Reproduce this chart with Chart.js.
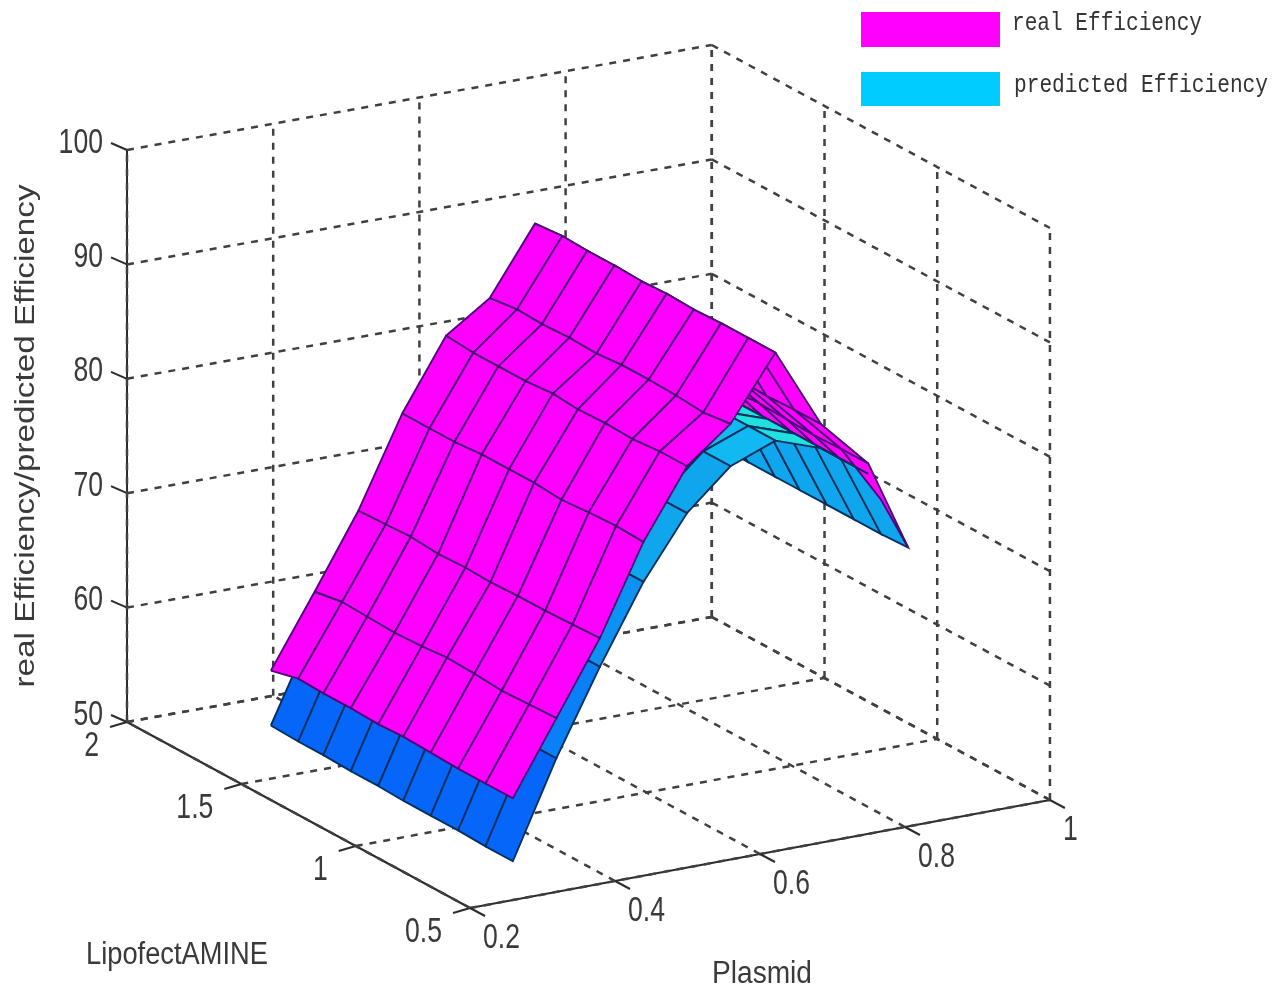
<!DOCTYPE html>
<html>
<head>
<meta charset="utf-8">
<title>real / predicted Efficiency</title>
<script src="https://cdn.jsdelivr.net/npm/chart.js@4"></script>
<style>
html, body { margin: 0; padding: 0; background: #fff; }
canvas { display: block; filter: blur(0.6px); }
</style>
</head>
<body>
<canvas id="surface" width="1281" height="990"></canvas>
<script>
// ── Data ────────────────────────────────────────────────────────────────────
var plasmid = [0.30, 0.36, 0.42, 0.48, 0.54, 0.60, 0.662, 0.725, 0.79, 0.845];
var lipofectamine = [1.69, 1.57, 1.46, 1.34, 1.22, 1.11, 0.99, 0.87, 0.75, 0.63];

// one row per plasmid value, one column per lipofectamine value
var realEfficiency = [
    [56.7, 57.3, 57.2, 57.2, 57.1, 57.2, 57.1, 57.0, 57.0, 57.0],
    [62.9, 63.3, 63.2, 63.1, 63.2, 63.4, 63.3, 63.1, 63.2, 63.3],
    [69.3, 69.4, 69.5, 69.3, 69.4, 69.3, 69.4, 69.4, 69.5, 69.6],
    [77.1, 77.1, 77.1, 77.3, 77.3, 77.3, 77.1, 77.3, 77.4, 77.3],
    [83.2, 83.0, 83.0, 83.0, 83.2, 83.0, 83.1, 83.0, 83.2, 83.2],
    [85.8, 86.1, 86.0, 86.1, 86.0, 86.2, 86.2, 86.1, 85.9, 86.2],
    [91.6, 91.8, 91.7, 91.7, 91.6, 91.7, 91.6, 91.7, 91.7, 91.7],
    [84.6, 84.8, 84.7, 84.6, 84.7, 84.8, 84.7, 84.6, 84.7, 84.7],
    [80.4, 80.6, 80.5, 80.4, 80.5, 80.6, 80.5, 80.4, 80.5, 80.5],
    [76.7, 76.8, 76.7, 76.6, 76.7, 76.8, 76.7, 76.6, 75.4, 72.5]
];
var predictedEfficiency = [
    [51.9, 51.8, 51.8, 51.7, 51.7, 51.6, 51.6, 51.6, 51.5, 51.5],
    [59.9, 59.9, 59.9, 59.8, 59.8, 59.8, 59.8, 59.8, 59.8, 59.8],
    [67.2, 67.2, 67.2, 67.2, 67.1, 67.1, 67.1, 67.1, 67.1, 67.1],
    [73.9, 73.9, 73.9, 73.8, 73.8, 73.8, 73.8, 73.8, 73.8, 73.8],
    [79.2, 79.2, 79.2, 79.1, 79.1, 79.1, 79.1, 79.1, 79.1, 79.1],
    [82.6, 82.6, 82.6, 82.5, 82.5, 82.5, 82.5, 82.5, 82.5, 82.5],
    [84.1, 84.1, 84.1, 84.0, 84.0, 84.0, 84.0, 84.0, 84.0, 84.0],
    [82.7, 82.7, 82.7, 82.6, 82.6, 82.6, 82.6, 82.6, 82.6, 82.6],
    [79.7, 79.7, 79.7, 79.6, 79.6, 79.6, 79.6, 79.6, 79.6, 79.6],
    [72.4, 72.4, 72.4, 72.4, 72.4, 72.4, 72.4, 72.4, 72.4, 72.5]
];

var plasmidTicks = [0.2, 0.4, 0.6, 0.8, 1];
var lipoTicks = [0.5, 1, 1.5, 2];
var effTicks = [50, 60, 70, 80, 90, 100];
var legendLabels = ['real Efficiency', 'predicted Efficiency'];

// ── View of the axes box (fitted to the reference, slight perspective) ──────
function project(p, l, e) {
    var dp = p - 0.2, dl = 2 - l;
    return {
        x: 127 + 731 * dp + 228.7 * dl - 4.1 * dp * dl,
        y: 722 - 131.25 * dp + 124 * dl - 2.5 * dp * dl - 11.44 * (e - 50)
    };
}

function depth(p, l, e) {
    var u = (p - 0.2) / 0.8, v = (2 - l) / 1.5, w = (e - 50) / 50;
    return -0.482 * u + 0.816 * v + 0.288 * w;
}

// flat shading: a cell takes the colour of its first corner
function predictedColor(e) {
    if (e < 55) return '#0666fa';
    if (e < 62) return '#0a80f8';
    if (e < 70) return '#0c92f2';
    if (e < 80) return '#10a6ee';
    if (e < 83) return '#12b8f2';
    return '#20e0e0';
}

// ── Surface cells, nearest first (Chart.js paints dataset 0 last) ───────────
function surfaceCells(grid, fillFor, edge) {
    var cells = [];
    for (var j = 0; j < plasmid.length - 1; j++) {
        for (var i = 0; i < lipofectamine.length - 1; i++) {
            var corners = [[j, i], [j + 1, i], [j + 1, i + 1], [j, i + 1], [j, i]];
            var pts = [], d = 0;
            corners.forEach(function (c, n) {
                var e = grid[c[0]][c[1]];
                pts.push(project(plasmid[c[0]], lipofectamine[c[1]], e));
                if (n < 4) d += depth(plasmid[c[0]], lipofectamine[c[1]], e) / 4;
            });
            cells.push({
                depth: d,
                data: pts,
                showLine: true,
                fill: 'shape',
                tension: 0,
                pointRadius: 0,
                backgroundColor: fillFor(grid[j][i]),
                borderColor: edge,
                borderWidth: 1.9
            });
        }
    }
    return cells;
}

var cells = surfaceCells(realEfficiency, function () { return '#ff00ff'; }, '#4a0a78')
    .concat(surfaceCells(predictedEfficiency, predictedColor, '#06305c'));
cells.sort(function (a, b) { return b.depth - a.depth; });

// ── Box: dashed grid, solid axes, tick marks ────────────────────────────────
function segment(a, b, dashed) {
    return {
        data: [a, b],
        showLine: true,
        fill: false,
        tension: 0,
        pointRadius: 0,
        borderColor: dashed ? '#404040' : '#2c2c2c',
        borderWidth: dashed ? 2.5 : 2,
        borderDash: dashed ? [7, 7] : []
    };
}

var frame = [];
plasmidTicks.forEach(function (p) {
    frame.push(segment(project(p, 0.5, 50), project(p, 2, 50), true));
    frame.push(segment(project(p, 2, 50), project(p, 2, 100), true));
    var a = project(p, 0.5, 50);
    frame.push(segment(a, { x: a.x + 15, y: a.y + 8 }, false));
});
lipoTicks.forEach(function (l) {
    frame.push(segment(project(0.2, l, 50), project(1, l, 50), true));
    frame.push(segment(project(1, l, 50), project(1, l, 100), true));
    var a = project(0.2, l, 50);
    frame.push(segment(a, { x: a.x - 17, y: a.y + 5 }, false));
});
effTicks.forEach(function (e) {
    frame.push(segment(project(0.2, 2, e), project(1, 2, e), true));
    frame.push(segment(project(1, 2, e), project(1, 0.5, e), true));
    var a = project(0.2, 2, e);
    frame.push(segment(a, { x: a.x - 16, y: a.y - 7 }, false));
});
frame.push(segment(project(0.2, 2, 50), project(0.2, 2, 100), false));
frame.push(segment(project(0.2, 2, 50), project(0.2, 0.5, 50), false));
frame.push(segment(project(0.2, 0.5, 50), project(1, 0.5, 50), false));

// ── Text and legend, squeezed like the stretched original ───────────────────
function fitText(ctx, text, cx, cy, font, width, angle) {
    ctx.save();
    ctx.font = font;
    ctx.textAlign = 'center';
    ctx.textBaseline = 'middle';
    ctx.translate(cx, cy);
    if (angle) ctx.rotate(angle);
    ctx.scale(width / ctx.measureText(text).width, 1);
    ctx.fillText(text, 0, 0);
    ctx.restore();
}

function tickText(ctx, text, x, y, align) {
    ctx.save();
    ctx.font = '35px "Liberation Sans"';
    ctx.textAlign = align;
    ctx.textBaseline = 'middle';
    ctx.translate(x, y);
    ctx.scale(0.76, 1);
    ctx.fillText(text, 0, 0);
    ctx.restore();
}

var labelsPlugin = {
    id: 'labels3d',
    afterDatasetsDraw: function (chart) {
        var ctx = chart.ctx;
        ctx.fillStyle = '#3a3a3a';
        effTicks.forEach(function (e) {
            var a = project(0.2, 2, e);
            tickText(ctx, String(e), a.x - 24, a.y - 7, 'right');
        });
        lipoTicks.forEach(function (l) {
            var a = project(0.2, l, 50);
            tickText(ctx, String(l), a.x - 28, a.y + 24, 'right');
        });
        plasmidTicks.forEach(function (p) {
            var a = project(p, 0.5, 50);
            tickText(ctx, String(p), a.x + 13, a.y + 30, 'left');
        });
        fitText(ctx, 'LipofectAMINE', 177, 955, '31px "Liberation Sans"', 182);
        fitText(ctx, 'Plasmid', 762, 974, '31px "Liberation Sans"', 100);
        fitText(ctx, 'real Efficiency/predicted Efficiency', 27, 436, '27px "Liberation Sans"', 503, -Math.PI / 2);

        ctx.fillStyle = '#ff00ff';
        ctx.fillRect(861, 12, 139, 35);
        ctx.fillStyle = '#00ccff';
        ctx.fillRect(861, 72, 139, 34);
        ctx.fillStyle = '#333';
        fitText(ctx, legendLabels[0], 1107, 23, '25px "Liberation Mono"', 190);
        fitText(ctx, legendLabels[1], 1141, 85, '25px "Liberation Mono"', 254);
    }
};

new Chart(document.getElementById('surface'), {
    type: 'scatter',
    data: { datasets: cells.concat(frame) },
    options: {
        responsive: false,
        animation: false,
        layout: { padding: 0 },
        plugins: { legend: { display: false }, tooltip: { enabled: false } },
        scales: {
            x: { type: 'linear', min: 0, max: 1281, display: false },
            y: { type: 'linear', min: 0, max: 990, reverse: true, display: false }
        }
    },
    plugins: [labelsPlugin]
});
</script>
</body>
</html>
